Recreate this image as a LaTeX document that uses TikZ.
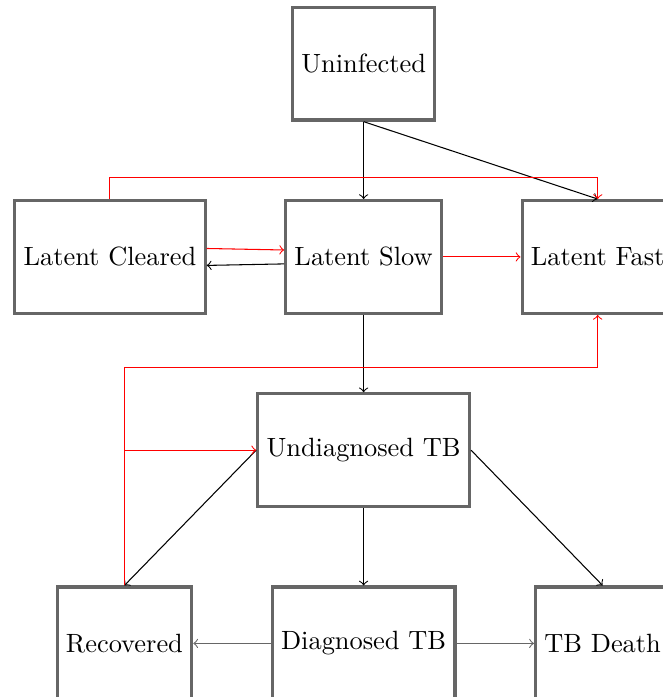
\documentclass[tikz,border=0pt]{standalone}
\usetikzlibrary{positioning}
\begin{document}
\begin{tikzpicture}[node distance=1.03cm,
        state/.style={rectangle, draw=black!60, very thick, minimum height=1.5cm}]
        \node[state] (uninf) {Uninfected};
        \node[state, below=of uninf] (ls) {Latent Slow};
        \node[state, left=of ls] (lc) {Latent Cleared};
        \node[state, right=of ls] (lf) {Latent Fast};
        \node[state, below=of ls] (utb) {Undiagnosed TB};
        \node[state, below=of utb] (dtb) {Diagnosed TB};
        \node[state, left=of dtb] (rec) {Recovered};
        \node[state, right=of dtb] (tbd) {TB Death};
        % black transitions
        \draw[->] (uninf) -- (ls);
        \draw[->] (uninf.south) -- (lf.north);
        \draw[->] (ls.185) -- (lc.355);
        \draw[->] (ls) -- (utb);
        \draw[->] (utb.west) -- (rec.north);
        \draw[->] (utb) -- (dtb);
        \draw[->] (utb.east) -- (tbd.north);
        \draw[->, black!60] (dtb) -- (rec);
        \draw[->, black!60] (dtb) -- (tbd);
        % red transitions
        \draw[->, red] (lc.5) -- (ls.175);
        \draw[->, red] (ls) -- (lf);
        \draw[->, red] (lc.north) -- ++(0,8pt) -| (lf.north);
        \draw[->, red] (rec.north) |- ([yshift=9.5pt]utb.north) -| (lf.south);
        \draw[->, red] (rec.north) |- (utb.west);
        % crop
        \coordinate (tl) at (lc.west |- uninf.north);
        \pgfresetboundingbox
        \useasboundingbox ([shift={(-5pt,2.2pt)}]tl) rectangle ++(251.1pt,-264pt);
    \end{tikzpicture}
\end{document}
